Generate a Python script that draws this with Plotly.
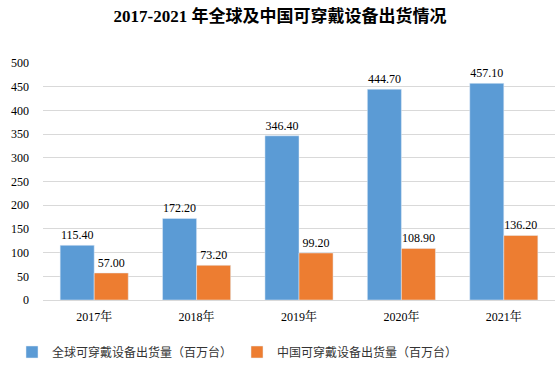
import plotly.graph_objects as go

categories = ["2017年", "2018年", "2019年", "2020年", "2021年"]
global_vals = [115.40, 172.20, 346.40, 444.70, 457.10]
china_vals = [57.00, 73.20, 99.20, 108.90, 136.20]
series_names = ["全球可穿戴设备出货量（百万台）", "中国可穿戴设备出货量（百万台）"]
y_ticks = [0, 50, 100, 150, 200, 250, 300, 350, 400, 450, 500]

serif = "Liberation Serif, Times New Roman, Noto Serif CJK SC, serif"
sans = "Noto Sans CJK SC, sans-serif"

fig = go.Figure()
fig.add_trace(go.Bar(
    x=categories, y=global_vals, name=series_names[0],
    marker_color="#5B9BD5",
    text=[f"{v:.2f}" for v in global_vals], textposition="outside",
    textfont=dict(family=serif, size=12, color="#000000"),
    cliponaxis=False,
))
fig.add_trace(go.Bar(
    x=categories, y=china_vals, name=series_names[1],
    marker_color="#ED7D31",
    text=[f"{v:.2f}" for v in china_vals], textposition="outside",
    textfont=dict(family=serif, size=12, color="#000000"),
    cliponaxis=False,
))

fig.update_layout(
    width=560, height=365,
    margin=dict(l=43, r=5, t=63, b=65, autoexpand=False),
    paper_bgcolor="white", plot_bgcolor="white",
    barmode="group", bargap=0.335, bargroupgap=0,
    title=dict(
        text="<b>2017-2021 年全球及中国可穿戴设备出货情况</b>",
        x=0.5, xanchor="center", y=1 - 16/365, yanchor="middle",
        font=dict(family="Liberation Serif, Noto Sans CJK SC", size=17, color="#000000"),
    ),
    xaxis=dict(
        showline=True, linecolor="#D9D9D9", linewidth=1,
        tickfont=dict(family="Liberation Serif, Noto Serif CJK SC, Noto Sans CJK SC", size=12, color="#000000"),
        ticks="", ticklabelstandoff=6, automargin=False,
    ),
    yaxis=dict(
        range=[0, 500], tickvals=y_ticks,
        showgrid=True, gridcolor="#D9D9D9", gridwidth=1,
        zeroline=False,
        tickfont=dict(family=serif, size=12, color="#000000"),
        ticks="", ticklabelstandoff=13, automargin=False,
    ),
    legend=dict(
        orientation="h", xref="container", yref="container",
        x=12/560, xanchor="left", y=13/365, yanchor="middle",
        font=dict(family=sans, size=12, color="#333333"),
        itemwidth=30, entrywidth=180, entrywidthmode="pixels", tracegroupgap=0,
    ),
    showlegend=True,
)

fig.write_html("out.html", config={"displayModeBar": False},
               post_script="document.body.style.margin='0';")
